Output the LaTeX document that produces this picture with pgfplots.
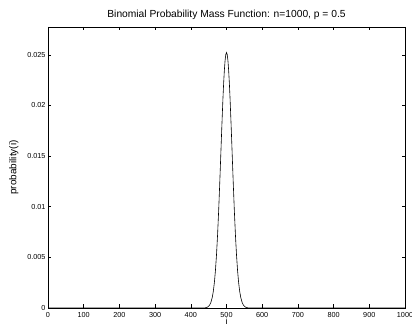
\documentclass[border=0pt]{standalone}
\usepackage{pgfplots}
\pgfplotsset{compat=1.18}
\usepackage{fontspec}
\setmainfont{Liberation Sans}
\usetikzlibrary{calc}
\begin{document}
\begin{tikzpicture}
\begin{axis}[
  scale only axis, width=357bp, height=281bp,
  xmin=0, xmax=1000, ymin=0, ymax=0.02775,
  xtick={0,100,...,1000},
  xticklabels={0,100,200,300,400,500,600,700,800,900,1000},
  ytick={0,0.005,0.01,0.015,0.02,0.025},
  yticklabels={0,0.005,0.01,0.015,0.02,0.025},
  scaled y ticks=false, scaled x ticks=false,
  tick align=inside,
  xtick pos=both, ytick pos=both,
  major tick length=3.5bp,
  tick style={black, line width=0.5bp},
  axis line style={line width=0.8bp},
  /pgf/number format/assume math mode=true,
  ticklabel style={font=\fontsize{7.3}{8}\selectfont},
  xticklabel style={yshift=-0.5bp},
  yticklabel style={xshift=1bp},
  title={Binomial Probability Mass Function: n=1000, p = 0.5},
  title style={font=\fontsize{10.3}{11}\selectfont, yshift=-2bp},
  xlabel={i},
  xlabel style={font=\fontsize{9}{10}\selectfont, yshift=6bp},
  ylabel={probability(i)},
  ylabel style={font=\fontsize{10}{11}\selectfont, yshift=2bp},
]
\addplot[black, line width=0.6bp, no marks] coordinates {
(0,0) (400,0) (420,0) (430,0.0000014) (440,0.0000189) (444,0.0000477)
(448,0.000113) (452,0.000252) (456,0.000525) (460,0.001028)
(463,0.001632) (466,0.002499) (469,0.003692) (472,0.005260)
(475,0.007229) (478,0.009583) (481,0.012257) (484,0.015120)
(487,0.017994) (490,0.020657) (492,0.022199) (494,0.023477)
(496,0.024435) (498,0.025029) (500,0.025225)
(502,0.025029) (504,0.024435) (506,0.023477) (508,0.022199)
(510,0.020657) (513,0.017994) (516,0.015120) (519,0.012257)
(522,0.009583) (525,0.007229) (528,0.005260) (531,0.003692)
(534,0.002499) (537,0.001632) (540,0.001028) (544,0.000525)
(548,0.000252) (552,0.000113) (556,0.0000477) (560,0.0000189)
(570,0.0000014) (580,0) (600,0) (1000,0)
};
\coordinate (sw) at (rel axis cs:0,0);
\coordinate (ne) at (rel axis cs:1,1);
\end{axis}
\pgfresetboundingbox
\path ($(sw)+(-48bp,-19bp)$) rectangle ($(ne)+(7bp,27bp)$);
\end{tikzpicture}
\end{document}
